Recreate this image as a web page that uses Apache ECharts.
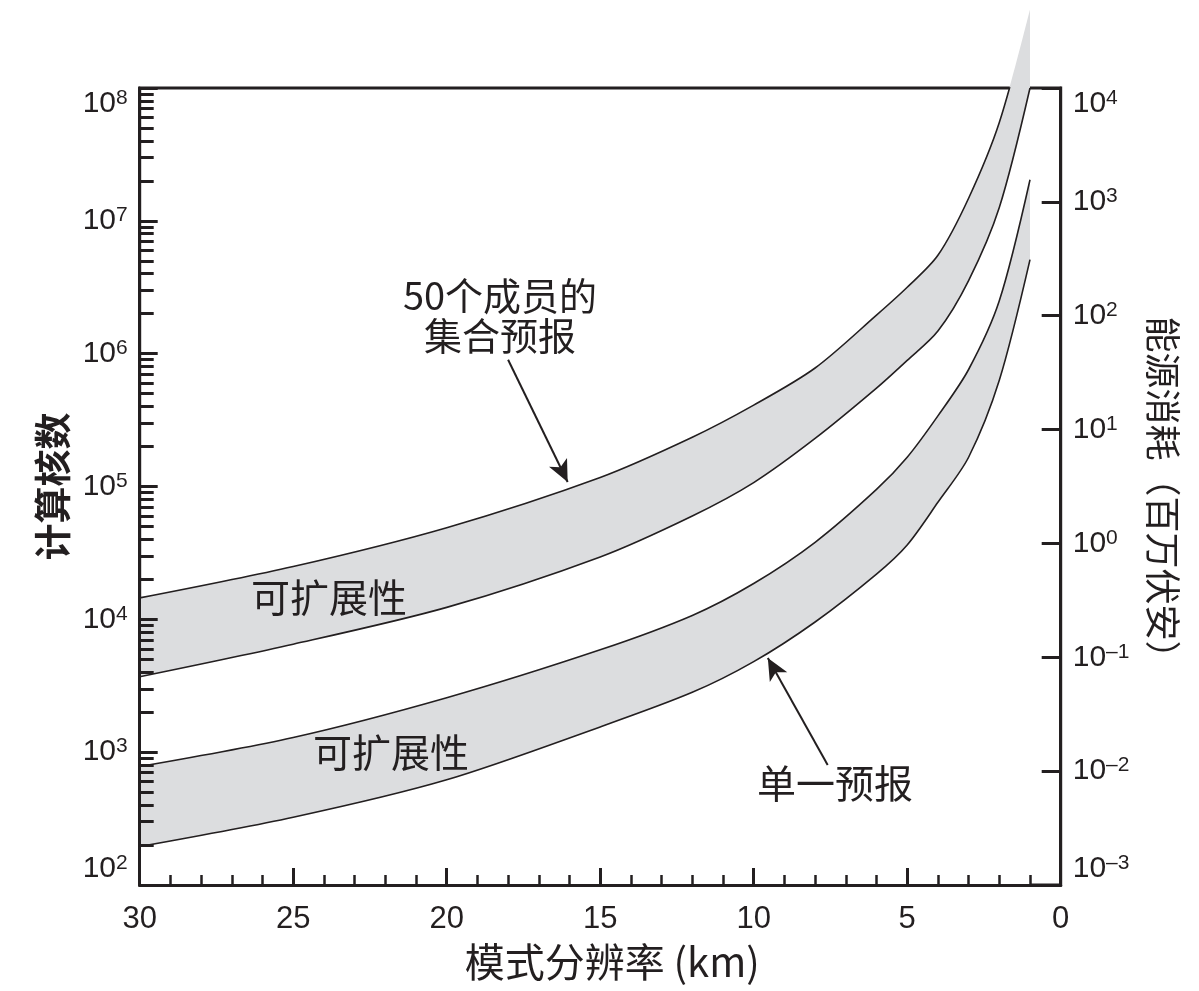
<!DOCTYPE html>
<html>
<head>
<meta charset="utf-8">
<script src="https://cdn.jsdelivr.net/npm/echarts@6/dist/echarts.min.js"></script>
<style>
  html, body { margin: 0; padding: 0; background: #fff; }
  #chart { width: 1199px; height: 991px; }
</style>
</head>
<body>
<div id="chart"></div>
<script>
// 模式分辨率 (km)
const resolution = [30, 25, 20, 15, 12, 10, 8, 6, 5, 4, 3, 2, 1];
// 50个成员的集合预报：上下边界（计算核数）
const ensembleUpper = [1.45e4, 2.5e4, 4.9e4, 1.17e5, 2.35e5, 4.1e5, 7.8e5, 1.95e6, 3.16e6, 5.5e6, 1.48e7, 5.5e7, 3.9e8];
const ensembleLower = [3.7e3, 6.5e3, 1.23e4, 2.95e4, 6.0e4, 1.07e5, 2.3e5, 5.5e5, 8.9e5, 1.48e6, 3.55e6, 1.26e7, 1.0e8];
// 单一预报：上下边界
const singleUpper = [780, 1290, 2570, 5900, 1.07e4, 1.86e4, 3.8e4, 9.5e4, 1.66e5, 3.4e5, 7.6e5, 2.5e6, 2.04e7];
const singleLower = [195, 324, 620, 1550, 2820, 4800, 9550, 2.19e4, 3.63e4, 7.6e4, 1.66e5, 6.3e5, 5.1e6];

// 刻度
const coreTicks = [1e2, 1e3, 1e4, 1e5, 1e6, 1e7, 1e8];
const coreMinorTicks = [];
coreTicks.slice(0, -1).forEach(d => { for (let m = 2; m <= 9; m++) coreMinorTicks.push(d * m); });
const energyTicks = [1e-3, 1e-2, 1e-1, 1e0, 1e1, 1e2, 1e3, 1e4];

// 箭头（起点 -> 终点）
const ensembleArrow = [[18.0, 9.0e5], [16.06, 1.08e5]];
const singleArrow = [[7.59, 800], [9.54, 5120]];

const ink = '#231f20';
const band = '#dcdddf';
const numFont = '"Liberation Sans", Arial, sans-serif';
const cjkFont = '"Noto Sans CJK SC", sans-serif';
const smooth = 0.3;

function pairs(ys) { return resolution.map((x, i) => [x, ys[i]]); }

function powerLabel(value) {
  const e = Math.round(Math.log10(value));
  return '{b|10}{s|' + (e < 0 ? '\u2013' + (-e) : e) + '}';
}
const powerRich = {
  b: { fontSize: 30, fontFamily: numFont, color: ink, lineHeight: 32 },
  s: { fontSize: 21, fontFamily: numFont, color: ink, verticalAlign: 'top', lineHeight: 22 }
};

// 区域：上边界下方填灰色，下边界下方再填白色，留下两条边界之间的灰带
function area(name, ys, color) {
  return { name, type: 'line', data: pairs(ys), symbol: 'none', smooth,
    lineStyle: { width: 0, opacity: 0 }, areaStyle: { color, opacity: 1, origin: 'start' },
    clip: false, silent: true, z: 2 };
}
function stroke(name, ys, extra) {
  return Object.assign({ name, type: 'line', data: pairs(ys), symbol: 'none', smooth,
    lineStyle: { color: ink, width: 1.6 }, clip: true, silent: true, z: 3 }, extra || {});
}

const yCommon = { type: 'log', logBase: 10, splitLine: { show: false }, z: 10 };

const chart = echarts.init(document.getElementById('chart'));
chart.setOption({
  animation: false,
  backgroundColor: '#fff',
  grid: { left: 139.7, right: 138.3, top: 88, bottom: 106, show: true, z: 0,
    borderColor: ink, borderWidth: 3, backgroundColor: 'transparent' },
  xAxis: {
    type: 'value', min: 0, max: 30, interval: 5, inverse: true, z: 10,
    name: '模式分辨率 (km)', nameLocation: 'middle', nameGap: 57,
    nameTextStyle: { fontSize: 40, fontFamily: cjkFont, color: ink, padding: [0, 0, 0, 24] },
    axisLine: { show: true, onZero: false, lineStyle: { color: ink, width: 3 } },
    axisTick: { show: true, inside: true, length: 17, lineStyle: { color: ink, width: 3 } },
    minorTick: { show: true, splitNumber: 5, length: 10, lineStyle: { color: ink, width: 2.5 } },
    axisLabel: { fontSize: 31, fontFamily: numFont, color: ink, margin: 19 },
    splitLine: { show: false }
  },
  yAxis: [
    Object.assign({}, yCommon, {
      min: 1e2, max: 1e8, position: 'left',
      name: '计算核数', nameLocation: 'middle', nameGap: 68,
      nameTextStyle: { fontSize: 37, fontWeight: 'bold', fontFamily: cjkFont, color: ink },
      axisLine: { show: true, onZero: false, lineStyle: { color: ink, width: 3 } },
      axisTick: { show: true, inside: true, length: 18, customValues: coreTicks, lineStyle: { color: ink, width: 3 } },
      axisLabel: { customValues: coreTicks, formatter: powerLabel, rich: powerRich, margin: 12,
        verticalAlignMinLabel: 'bottom', verticalAlignMaxLabel: 'top' }
    }),
    Object.assign({}, yCommon, {
      min: 1e2, max: 1e8, position: 'left',
      axisLine: { show: false, onZero: false },
      axisTick: { show: true, inside: true, length: 14, customValues: coreMinorTicks, lineStyle: { color: ink, width: 3 } },
      axisLabel: { show: false }
    }),
    Object.assign({}, yCommon, {
      min: 1e-3, max: 1e4, position: 'right',
      name: '能源消耗（百万伏安）', nameLocation: 'middle', nameGap: 84, nameRotate: -90,
      nameTextStyle: { fontSize: 36, fontFamily: cjkFont, color: ink, padding: [0, 0, 0, 20] },
      axisLine: { show: true, onZero: false, lineStyle: { color: ink, width: 3 } },
      axisTick: { show: true, inside: true, length: 19, customValues: energyTicks, lineStyle: { color: ink, width: 3 } },
      axisLabel: { customValues: energyTicks, formatter: powerLabel, rich: powerRich, margin: 12,
        verticalAlignMinLabel: 'bottom', verticalAlignMaxLabel: 'top' }
    })
  ],
  series: [
    area('ensembleUpperFill', ensembleUpper, band),
    area('ensembleLowerFill', ensembleLower, '#ffffff'),
    area('singleUpperFill', singleUpper, band),
    area('singleLowerFill', singleLower, '#ffffff'),
    stroke('ensembleUpper', ensembleUpper),
    stroke('ensembleLower', ensembleLower),
    stroke('singleUpper', singleUpper),
    stroke('singleLower', singleLower, {
      markLine: {
        silent: true, symbol: ['none', 'arrow'], symbolSize: [15, 22],
        lineStyle: { color: ink, width: 2, type: 'solid' },
        label: { show: false },
        data: [
          [{ coord: ensembleArrow[0] }, { coord: ensembleArrow[1] }],
          [{ coord: singleArrow[0] }, { coord: singleArrow[1] }]
        ]
      }
    })
  ],
  graphic: [
    { type: 'text', x: 500, y: 316, z: 20, style: { text: '50个成员的\n集合预报', align: 'center', verticalAlign: 'middle',
      font: '38px ' + cjkFont, lineHeight: 40, fill: ink } },
    { type: 'text', x: 329, y: 597, z: 20, style: { text: '可扩展性', align: 'center', verticalAlign: 'middle',
      font: '39px ' + cjkFont, fill: ink } },
    { type: 'text', x: 391, y: 752, z: 20, style: { text: '可扩展性', align: 'center', verticalAlign: 'middle',
      font: '39px ' + cjkFont, fill: ink } },
    { type: 'text', x: 835, y: 783, z: 20, style: { text: '单一预报', align: 'center', verticalAlign: 'middle',
      font: '39px ' + cjkFont, fill: ink } }
  ]
});
</script>
</body>
</html>
